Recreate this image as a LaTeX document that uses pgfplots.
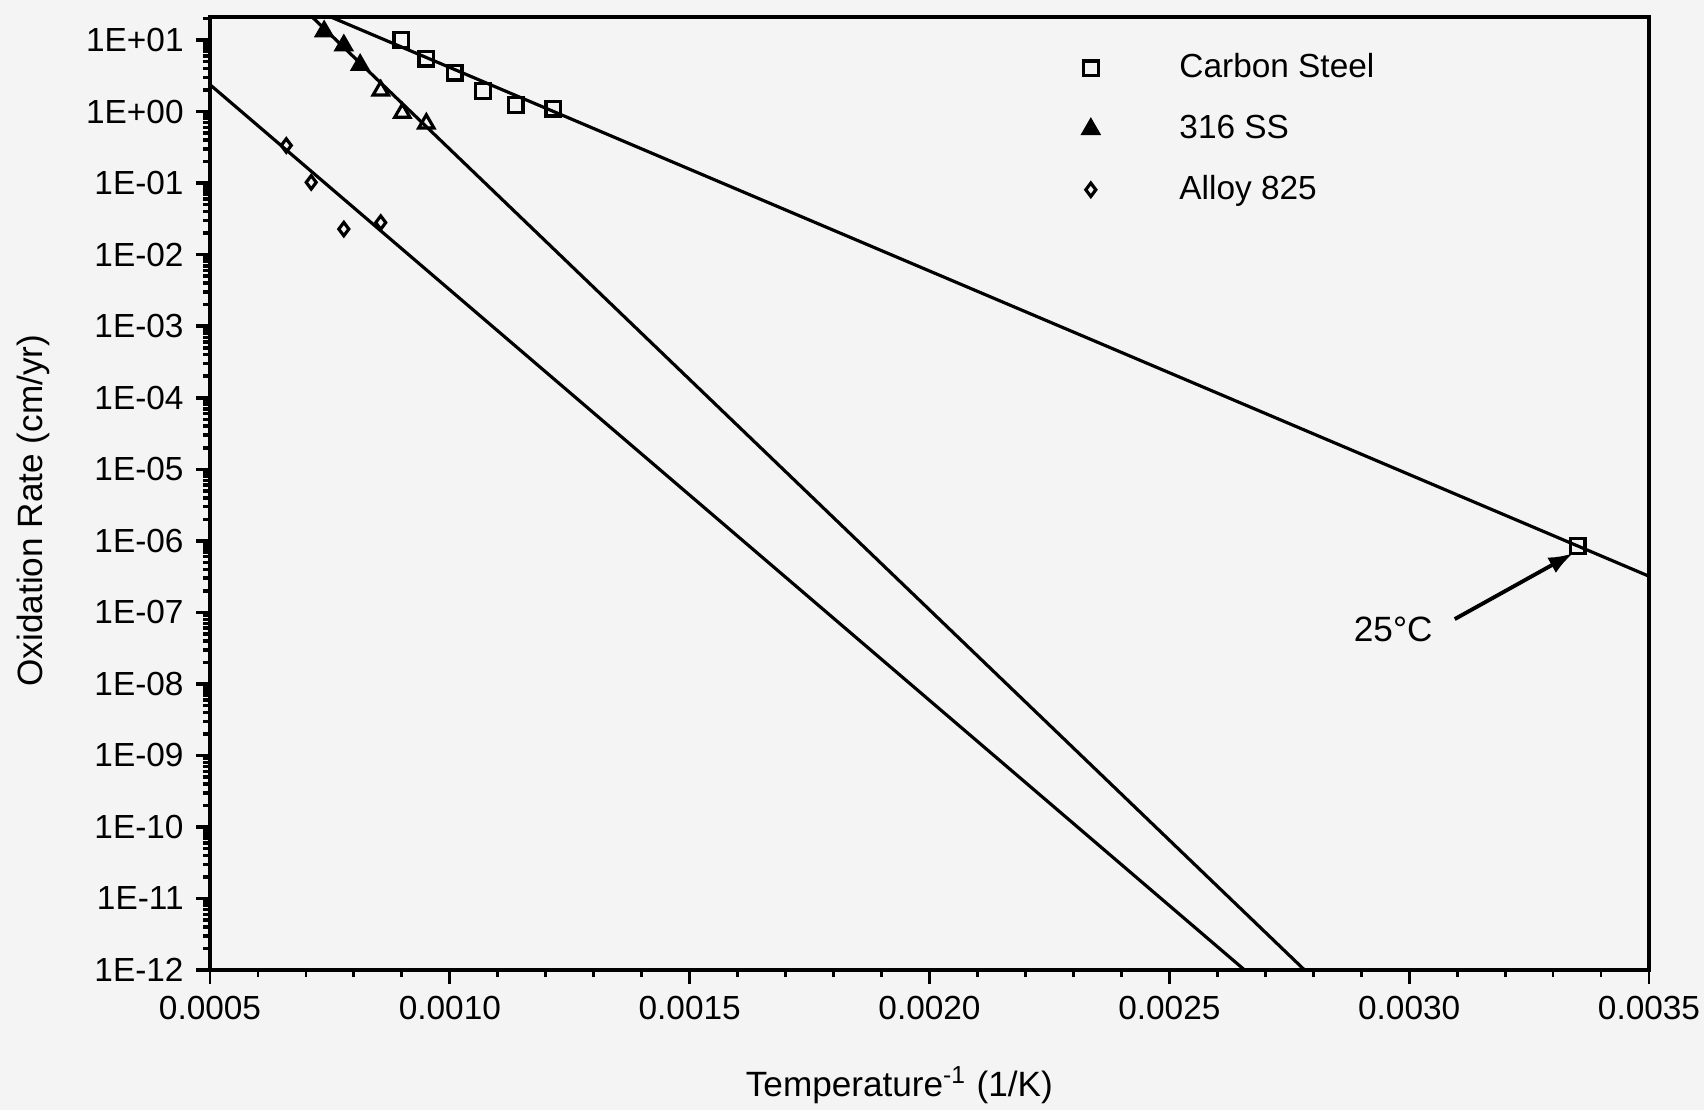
\documentclass[border=0pt]{standalone}
\usepackage{pgfplots}
\pgfplotsset{compat=1.18}
\usepackage{fontspec}
\setmainfont{Liberation Sans}
\usetikzlibrary{arrows.meta}
\definecolor{bg}{RGB}{244,244,244}
\begin{document}
\begin{tikzpicture}
  % page = picture, fixed to the reference proportions
  \path[use as bounding box, fill=bg] (-2.10,-1.40) rectangle (14.94,9.70);
  \begin{axis}[
      at={(0,0)}, anchor=south west,
      width=14.39cm, height=9.53cm, scale only axis,
      xmin=0.0005, xmax=0.0035,
      ymode=log, ymin=1e-12, ymax=21,
      axis line style={line width=1.1pt},
      tick align=outside,
      xtick pos=bottom, ytick pos=left,
      tick style={black, line width=0.8pt},
      major tick length=0.14cm, minor tick length=0.07cm,
      scaled x ticks=false,
      xtick={0.0005,0.0010,0.0015,0.0020,0.0025,0.0030,0.0035},
      xticklabels={0.0005,0.0010,0.0015,0.0020,0.0025,0.0030,0.0035},
      minor x tick num=4,
      ytick={1e-12,1e-11,1e-10,1e-9,1e-8,1e-7,1e-6,1e-5,1e-4,1e-3,1e-2,1e-1,1,10},
      yticklabels={1E-12,1E-11,1E-10,1E-09,1E-08,1E-07,1E-06,1E-05,1E-04,1E-03,1E-02,1E-01,1E+00,1E+01},
      minor ytick={
        2e-12,3e-12,4e-12,5e-12,6e-12,7e-12,8e-12,9e-12,
        2e-11,3e-11,4e-11,5e-11,6e-11,7e-11,8e-11,9e-11,
        2e-10,3e-10,4e-10,5e-10,6e-10,7e-10,8e-10,9e-10,
        2e-9,3e-9,4e-9,5e-9,6e-9,7e-9,8e-9,9e-9,
        2e-8,3e-8,4e-8,5e-8,6e-8,7e-8,8e-8,9e-8,
        2e-7,3e-7,4e-7,5e-7,6e-7,7e-7,8e-7,9e-7,
        2e-6,3e-6,4e-6,5e-6,6e-6,7e-6,8e-6,9e-6,
        2e-5,3e-5,4e-5,5e-5,6e-5,7e-5,8e-5,9e-5,
        2e-4,3e-4,4e-4,5e-4,6e-4,7e-4,8e-4,9e-4,
        2e-3,3e-3,4e-3,5e-3,6e-3,7e-3,8e-3,9e-3,
        0.02,0.03,0.04,0.05,0.06,0.07,0.08,0.09,
        0.2,0.3,0.4,0.5,0.6,0.7,0.8,0.9,
        2,3,4,5,6,7,8,9,20},
      y tick style={line width=1pt},
      ticklabel style={font=\fontsize{9.5}{11}\selectfont},
      xlabel={Temperature\textsuperscript{-1} (1/K)},
      ylabel={Oxidation Rate (cm/yr)},
      label style={font=\fontsize{9}{11}\selectfont},
      every axis x label/.style={at={(axis description cs:0.479,-0.121)}, anchor=center},
      every axis y label/.style={at={(axis description cs:-0.123,0.482)}, rotate=90, anchor=center},
      legend style={draw=none, fill=none, at={(0.599,0.977)}, anchor=north west,
        font=\fontsize{9.5}{11}\selectfont, row sep=5pt, column sep=0.74cm},
      legend cell align=left,
    ]
    % measured points
    \addplot[only marks, mark=square, mark size=2.1pt, mark options={line width=0.9pt}] coordinates {
      (0.000899,10) (0.000951,5.5) (0.001010,3.5) (0.001069,1.93)
      (0.001137,1.23) (0.001216,1.1) (0.003351,8.4e-7)
    };
    \addlegendentry{Carbon Steel}
    \addplot[only marks, mark=triangle*, mark size=2.5pt, mark options={line width=0.9pt}] coordinates {
      (0.000738,13.2) (0.000779,8.4) (0.000813,4.48)
    };
    \addlegendentry{316 SS}
    \addplot[only marks, mark=diamond, mark size=1.9pt, mark options={line width=0.9pt}] coordinates {
      (0.000659,0.336) (0.000711,0.1026) (0.000779,0.0228) (0.000856,0.0281)
    };
    \addlegendentry{Alloy 825}
    \addplot[forget plot, only marks, mark=triangle, mark size=2.5pt, mark options={line width=0.9pt}] coordinates {
      (0.000856,1.97) (0.000901,0.96) (0.000951,0.68)
    };
    % fitted lines
    \addplot[forget plot, line width=0.9pt] coordinates {(0.000752,21) (0.0035,3.2e-7)};
    \addplot[forget plot, line width=0.9pt] coordinates {(0.000713,21) (0.002782,1e-12)};
    \addplot[forget plot, line width=0.9pt] coordinates {(0.0005,2.38) (0.002657,1e-12)};
    % 25 C note
    \draw[-{Latex[length=7pt,width=5pt]}, line width=1.1pt]
      (axis cs:0.003095,8.05e-8) -- (axis cs:0.003342,6.7e-7);
    \node[anchor=east, inner sep=0pt, font=\fontsize{10}{12}\selectfont]
      at (axis cs:0.00305,5.7e-8) {25°C};
  \end{axis}
\end{tikzpicture}
\end{document}
